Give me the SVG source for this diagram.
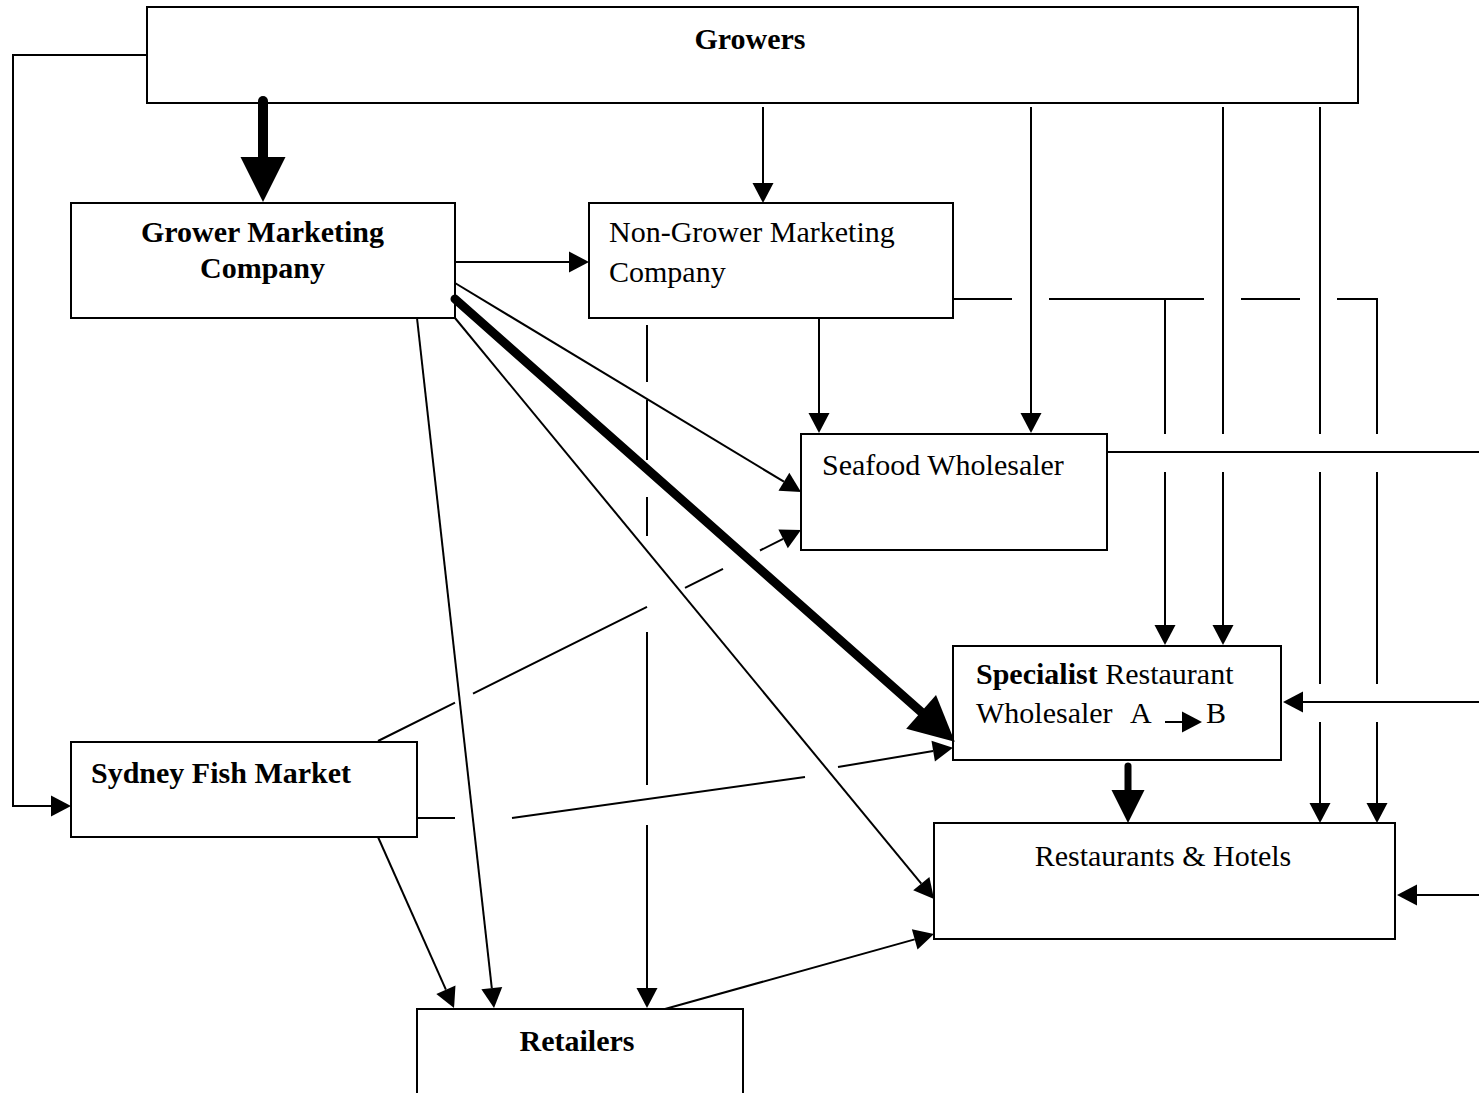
<svg xmlns="http://www.w3.org/2000/svg" width="1479" height="1093" viewBox="0 0 1479 1093">
<style>
.box{fill:#fff;stroke:#000;stroke-width:2}
.t{font-family:"Liberation Serif","Times New Roman",serif;font-size:30px;fill:#000}
.b{font-weight:bold}
.ln{fill:none;stroke:#000;stroke-width:2}
.thk{fill:none;stroke:#000;stroke-linecap:round}
</style>
<defs>
<marker id="ah" markerUnits="userSpaceOnUse" markerWidth="20" markerHeight="21" viewBox="0 0 20 21" refX="0" refY="10.5" orient="auto" overflow="visible"><path d="M0,0 L20,10.5 L0,21 z" fill="#000"/></marker>
<marker id="ahBig" markerUnits="userSpaceOnUse" markerWidth="45" markerHeight="45" viewBox="0 0 45 45" refX="0" refY="22.5" orient="auto" overflow="visible"><path d="M0,0 L45,22.5 L0,45 z" fill="#000"/></marker>
<marker id="ahMid" markerUnits="userSpaceOnUse" markerWidth="33" markerHeight="33" viewBox="0 0 33 33" refX="0" refY="16.5" orient="auto" overflow="visible"><path d="M0,0 L33,16.5 L0,33 z" fill="#000"/></marker>
</defs>

<g id="growers">
<rect class="box" x="147" y="7" width="1211" height="96"/>
<text class="t b" x="750" y="49" text-anchor="middle">Growers</text>
</g>
<g id="grower-marketing-company">
<rect class="box" x="71" y="203" width="384" height="115"/>
<text class="t b" x="262.5" y="242" text-anchor="middle">Grower Marketing</text>
<text class="t b" x="262.5" y="278" text-anchor="middle">Company</text>
</g>
<g id="non-grower-marketing-company">
<rect class="box" x="589" y="203" width="364" height="115"/>
<text class="t" x="609" y="242">Non-Grower Marketing</text>
<text class="t" x="609" y="282">Company</text>
</g>
<g id="seafood-wholesaler">
<rect class="box" x="801" y="434" width="306" height="116"/>
<text class="t" x="822" y="475">Seafood Wholesaler</text>
</g>
<g id="specialist-restaurant-wholesaler">
<rect class="box" x="953" y="646" width="328" height="114"/>
<text class="t" x="976" y="684"><tspan class="b">Specialist</tspan> Restaurant</text>
<text class="t" x="976" y="723">Wholesaler<tspan x="1130">A</tspan><tspan x="1206">B</tspan></text>
<path class="ln" d="M1165,722 H1182" marker-end="url(#ah)"/>
</g>
<g id="restaurants-hotels">
<rect class="box" x="934" y="823" width="461" height="116"/>
<text class="t" x="1163" y="866" text-anchor="middle">Restaurants &amp; Hotels</text>
</g>
<g id="sydney-fish-market">
<rect class="box" x="71" y="742" width="346" height="95"/>
<text class="t b" x="91" y="783">Sydney Fish Market</text>
</g>
<g id="retailers">
<rect class="box" x="417" y="1009" width="326" height="100"/>
<text class="t b" x="577" y="1051" text-anchor="middle">Retailers</text>
</g>

<g id="connectors">
<path class="ln" d="M147,55 H13 V806 H51" marker-end="url(#ah)"/>
<path class="ln" d="M763,107 V183" marker-end="url(#ah)"/>
<path class="ln" d="M1031,107 V413" marker-end="url(#ah)"/>
<path class="ln" d="M1223,107 V434 M1223,472 V625" marker-end="url(#ah)"/>
<path class="ln" d="M1320,107 V434 M1320,472 V684 M1320,722 V803" marker-end="url(#ah)"/>
<path class="ln" d="M953,299 H1012 M1049,299 H1204 M1241,299 H1300 M1337,299 H1377 V434 M1377,472 V684 M1377,722 V803" marker-end="url(#ah)"/>
<path class="ln" d="M1165,299 V434 M1165,472 V625" marker-end="url(#ah)"/>
<path class="ln" d="M455,262 H569" marker-end="url(#ah)"/>
<path class="ln" d="M819,318 V413" marker-end="url(#ah)"/>
<path class="ln" d="M455,283 L783.9,481.7" marker-end="url(#ah)"/>
<path class="ln" d="M455,318 L921.3,883.6" marker-end="url(#ah)"/>
<path class="ln" d="M417,318 L491.8,988.1" marker-end="url(#ah)"/>
<path class="ln" d="M378,837 L445.9,989.7" marker-end="url(#ah)"/>
<path class="ln" d="M647,325 V382 M647,400 V460 M647,497 V536 M647,632 V785 M647,825 V988" marker-end="url(#ah)"/>
<path class="ln" d="M378,741 L455,702.6 M473,693.6 L647,606.8 M685,587.9 L723,568.9 M760,550.5 L783.1,538.9" marker-end="url(#ah)"/>
<path class="ln" d="M417,818 H455 M512,818 L805,777 M838,767 L933.2,751.1" marker-end="url(#ah)"/>
<path class="ln" d="M665,1009 L914.7,939.4" marker-end="url(#ah)"/>
<path class="ln" d="M1107,452 H1479"/>
<path class="ln" d="M1479,702 H1303" marker-end="url(#ah)"/>
<path class="ln" d="M1479,895 H1417" marker-end="url(#ah)"/>
<path class="thk" stroke-width="10" d="M263,101 V157" marker-end="url(#ahBig)"/>
<path class="thk" stroke-width="9" d="M455,299 L921.1,711.8" marker-end="url(#ahBig)"/>
<path class="thk" stroke-width="7" d="M1128,766 V790" marker-end="url(#ahMid)"/>
</g>
</svg>
